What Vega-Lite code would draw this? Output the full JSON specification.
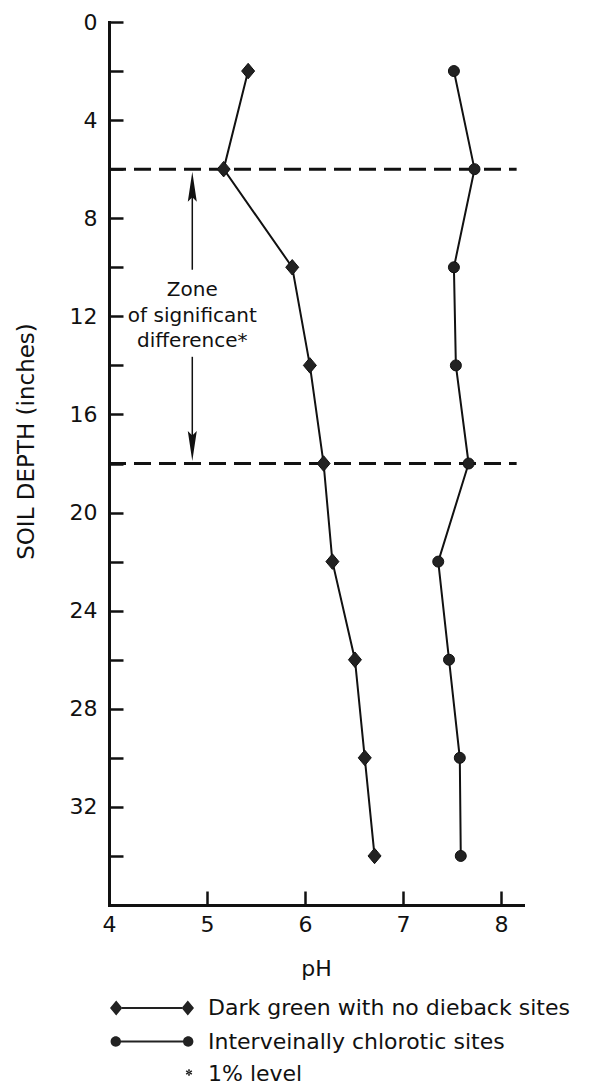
{
  "$schema": "https://vega.github.io/schema/vega-lite/v6.json",
  "width": 414,
  "height": 883,
  "autosize": {"type": "none"},
  "padding": {"left": 109, "top": 22, "right": 69, "bottom": 184},
  "background": "white",
  "config": {"view": {"stroke": null}, "font": "DejaVu Sans", "axis": {"grid": false}},
  "datasets": {
    "profiles": [
      {"series": "Dark green with no dieback sites", "depth": 2, "ph": 5.42},
      {"series": "Dark green with no dieback sites", "depth": 6, "ph": 5.17},
      {"series": "Dark green with no dieback sites", "depth": 10, "ph": 5.87},
      {"series": "Dark green with no dieback sites", "depth": 14, "ph": 6.05},
      {"series": "Dark green with no dieback sites", "depth": 18, "ph": 6.19},
      {"series": "Dark green with no dieback sites", "depth": 22, "ph": 6.28},
      {"series": "Dark green with no dieback sites", "depth": 26, "ph": 6.51},
      {"series": "Dark green with no dieback sites", "depth": 30, "ph": 6.61},
      {"series": "Dark green with no dieback sites", "depth": 34, "ph": 6.71},
      {"series": "Interveinally chlorotic sites", "depth": 2, "ph": 7.52},
      {"series": "Interveinally chlorotic sites", "depth": 6, "ph": 7.73},
      {"series": "Interveinally chlorotic sites", "depth": 10, "ph": 7.52},
      {"series": "Interveinally chlorotic sites", "depth": 14, "ph": 7.54},
      {"series": "Interveinally chlorotic sites", "depth": 18, "ph": 7.67},
      {"series": "Interveinally chlorotic sites", "depth": 22, "ph": 7.36},
      {"series": "Interveinally chlorotic sites", "depth": 26, "ph": 7.47},
      {"series": "Interveinally chlorotic sites", "depth": 30, "ph": 7.58},
      {"series": "Interveinally chlorotic sites", "depth": 34, "ph": 7.59}
    ],
    "zone": [
      {"depth": 6, "ph": 4, "ph_end": 8.16},
      {"depth": 18, "ph": 4, "ph_end": 8.16}
    ],
    "shafts": [
      {"ph": 4.85, "depth": 6.6, "depth_end": 10.1},
      {"ph": 4.85, "depth": 13.65, "depth_end": 17.4}
    ],
    "heads": [
      {"ph": 4.85, "depth": 6.72, "dir": "up"},
      {"ph": 4.85, "depth": 17.29, "dir": "down"}
    ],
    "note": [
      {"ph": 4.85, "depth": 11.18, "label": "Zone\nof significant\ndifference*"}
    ]
  },
  "encoding": {
    "x": {
      "field": "ph",
      "type": "quantitative",
      "scale": {"domain": [4, 8.225], "nice": false, "zero": false},
      "axis": {
        "title": "pH",
        "values": [4, 5, 6, 7, 8],
        "format": "d",
        "tickSize": -14,
        "tickWidth": 2.5,
        "tickColor": "#111",
        "domainWidth": 3,
        "domainColor": "#111",
        "domainCap": "square",
        "labelFontSize": 22,
        "labelColor": "#111",
        "labelPadding": 33,
        "labelBaseline": "middle",
        "labelFlush": false,
        "labelOverlap": false,
        "labelBound": false,
        "titleFontSize": 22,
        "titleFontWeight": "normal",
        "titleColor": "#111",
        "titleBaseline": "alphabetic",
        "titleY": 70
      }
    },
    "y": {
      "field": "depth",
      "type": "quantitative",
      "scale": {"domain": [0, 36], "reverse": true, "nice": false, "zero": false},
      "axis": {
        "title": "SOIL DEPTH (inches)",
        "values": [0, 2, 4, 6, 8, 10, 12, 14, 16, 18, 20, 22, 24, 26, 28, 30, 32, 34],
        "labelExpr": "datum.value % 4 === 0 ? datum.label : ''",
        "tickSize": -14,
        "tickWidth": 2.5,
        "tickColor": "#111",
        "domainWidth": 3,
        "domainColor": "#111",
        "domainCap": "square",
        "labelFontSize": 22,
        "labelColor": "#111",
        "labelPadding": 26,
        "labelAlign": "right",
        "labelBaseline": "middle",
        "labelFlush": false,
        "labelOverlap": false,
        "labelBound": false,
        "titleFontSize": 23,
        "titleFontWeight": "normal",
        "titleColor": "#111",
        "titleAngle": -90,
        "titleAlign": "center",
        "titleBaseline": "middle",
        "titleX": -83,
        "titleY": 419
      }
    }
  },
  "layer": [
    {
      "data": {"name": "zone"},
      "mark": {"type": "rule", "strokeDash": [17, 8], "strokeWidth": 3, "color": "#111"},
      "encoding": {"x2": {"field": "ph_end"}}
    },
    {
      "data": {"name": "profiles"},
      "mark": {"type": "line", "strokeWidth": 2, "color": "#111"},
      "encoding": {
        "detail": {"field": "series", "type": "nominal"},
        "order": {"field": "depth", "type": "quantitative"}
      }
    },
    {
      "data": {"name": "profiles"},
      "transform": [{"filter": "datum.series === 'Dark green with no dieback sites'"}],
      "mark": {"type": "point", "shape": "M0,-1L0.84,0L0,1L-0.84,0Z", "size": 240, "filled": true, "fill": "#222", "stroke": "#111", "strokeWidth": 1, "opacity": 1}
    },
    {
      "data": {"name": "profiles"},
      "transform": [{"filter": "datum.series === 'Interveinally chlorotic sites'"}],
      "mark": {"type": "point", "shape": "circle", "size": 121, "filled": true, "fill": "#222", "stroke": "#111", "strokeWidth": 1, "opacity": 1}
    },
    {
      "data": {"name": "shafts"},
      "mark": {"type": "rule", "strokeWidth": 1.5, "color": "#111"},
      "encoding": {"y2": {"field": "depth_end"}}
    },
    {
      "data": {"name": "heads"},
      "transform": [{"filter": "datum.dir === 'up'"}],
      "mark": {"type": "point", "shape": "M0,-1L0.3,1L0,0.7L-0.3,1Z", "size": 900, "filled": true, "fill": "#111", "opacity": 1}
    },
    {
      "data": {"name": "heads"},
      "transform": [{"filter": "datum.dir === 'down'"}],
      "mark": {"type": "point", "shape": "M0,1L0.3,-1L0,-0.7L-0.3,-1Z", "size": 900, "filled": true, "fill": "#111", "opacity": 1}
    },
    {
      "data": {"name": "note"},
      "mark": {"type": "text", "fontSize": 20, "align": "center", "baseline": "alphabetic", "lineBreak": "\n", "lineHeight": 25.5, "color": "#111"},
      "encoding": {"text": {"field": "label", "type": "nominal"}}
    },
    {
      "data": {"name": "profiles"},
      "transform": [{"filter": "false"}],
      "mark": {"type": "point", "filled": true, "size": 400, "color": "#222", "opacity": 1},
      "encoding": {
        "shape": {
          "field": "series",
          "type": "nominal",
          "scale": {
            "domain": ["Dark green with no dieback sites", "Interveinally chlorotic sites", "1% level"],
            "range": [
              "M-4.2,0L-3.58,-0.74L-2.96,0L-3.58,0.74Z M-3,-0.1L3,-0.1L3,0.1L-3,0.1Z M2.96,0L3.58,-0.74L4.2,0L3.58,0.74Z",
              "M-4.14,0A0.52,0.52,0,1,1,-3.1,0A0.52,0.52,0,1,1,-4.14,0Z M-3.2,-0.1L3.2,-0.1L3.2,0.1L-3.2,0.1Z M3.1,0A0.52,0.52,0,1,1,4.14,0A0.52,0.52,0,1,1,3.1,0Z",
              "M3.62,-0.48L3.78,-0.48L3.78,0.18L3.62,0.18Z M3.946,0.084L4.026,-0.054L3.454,-0.384L3.374,-0.246Z M4.026,-0.246L3.946,-0.384L3.374,-0.054L3.454,0.084Z"
            ]
          },
          "legend": {
            "title": null,
            "orient": "none",
            "legendX": 32,
            "legendY": 975,
            "direction": "vertical",
            "padding": 0,
            "labelFontSize": 22,
            "labelColor": "#111",
            "labelOffset": 45,
            "labelLimit": 600,
            "rowPadding": 10.5,
            "symbolSize": 400,
            "symbolOffset": 0,
            "symbolStrokeWidth": 2,
            "symbolFillColor": "#222",
            "symbolOpacity": 1
          }
        }
      }
    }
  ]
}
